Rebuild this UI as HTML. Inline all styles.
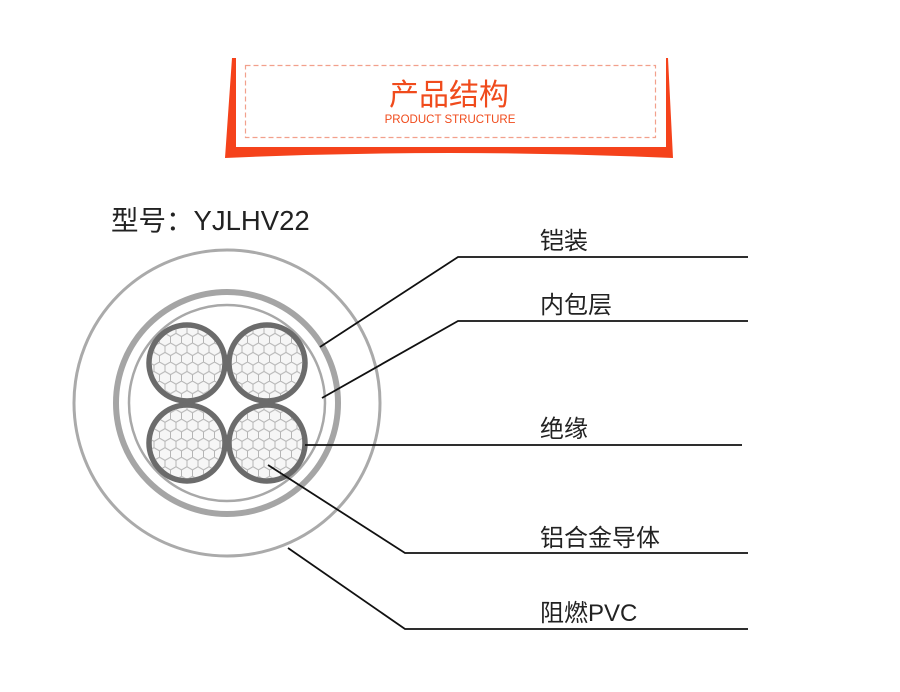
<!DOCTYPE html>
<html><head><meta charset="utf-8"><style>
body{margin:0;background:#fff;}
svg{display:block;}
</style></head><body>
<svg width="900" height="692" viewBox="0 0 900 692" xmlns="http://www.w3.org/2000/svg">
<defs>
<pattern id="hex" width="11" height="19.05" patternUnits="userSpaceOnUse">
<path d="M0,3.17 L5.5,0 L11,3.17 M5.5,0 L5.5,-1 M0,3.17 L0,9.52 L5.5,12.7 L11,9.52 L11,3.17 M5.5,12.7 L5.5,19.05" fill="none" stroke="#b5b5b5" stroke-width="1"/>
</pattern>
</defs>
<!-- banner -->
<path d="M232,58 L668,58 L673,158 Q450,148 225,158 Z" fill="#f5421b"/>
<rect x="236" y="57" width="430" height="90" fill="#fff"/>
<rect x="245.5" y="65.5" width="410" height="72" fill="none" stroke="#f2a08c" stroke-width="1.2" stroke-dasharray="5,3"/>
<text x="449" y="105" text-anchor="middle" font-family="Liberation Sans, Noto Sans CJK SC, sans-serif" font-size="30" fill="#f04b1c">产品结构</text>
<text x="450" y="123" text-anchor="middle" font-family="Liberation Sans, sans-serif" font-size="11.5" fill="#f04b1c">PRODUCT STRUCTURE</text>
<!-- model -->
<text x="111" y="230" font-family="Liberation Sans, Noto Sans CJK SC, sans-serif" font-size="27.5" fill="#222">型号：YJLHV22</text>
<!-- cable -->
<circle cx="227" cy="403" r="153" fill="#fff" stroke="#aaa" stroke-width="3"/>
<circle cx="227" cy="403" r="111" fill="#fff" stroke="#a5a5a5" stroke-width="6"/>
<circle cx="227" cy="403" r="98" fill="#fff" stroke="#a8a8a8" stroke-width="2.5"/>
<g stroke="#6b6b6b" stroke-width="5.5">
<circle cx="187" cy="363" r="38" fill="#f6f6f6"/>
<circle cx="267" cy="363" r="38" fill="#f6f6f6"/>
<circle cx="187" cy="443" r="38" fill="#f6f6f6"/>
<circle cx="267" cy="443" r="38" fill="#f6f6f6"/>
</g>
<g>
<circle cx="187" cy="363" r="35.2" fill="url(#hex)"/>
<circle cx="267" cy="363" r="35.2" fill="url(#hex)"/>
<circle cx="187" cy="443" r="35.2" fill="url(#hex)"/>
<circle cx="267" cy="443" r="35.2" fill="url(#hex)"/>
</g>
<!-- leaders -->
<g stroke="#111" stroke-width="1.8" fill="none">
<polyline points="320,347 458,257 748,257"/>
<polyline points="322,398 458,321 748,321"/>
<polyline points="305,445 742,445"/>
<polyline points="268,465 405,553 748,553"/>
<polyline points="288,548 405,629 748,629"/>
</g>
<g font-family="Liberation Sans, Noto Sans CJK SC, sans-serif" font-size="24" fill="#222">
<text x="540" y="249">铠装</text>
<text x="540" y="313">内包层</text>
<text x="540" y="437">绝缘</text>
<text x="540" y="546">铝合金导体</text>
<text x="540" y="621">阻燃PVC</text>
</g>
</svg>
</body></html>
